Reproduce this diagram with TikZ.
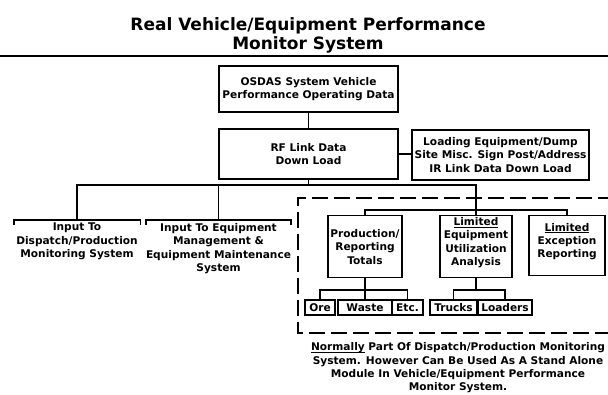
\documentclass[tikz,border=0pt]{standalone}
\usepackage{fontspec}
\setmainfont{DejaVu Sans}
\usetikzlibrary{positioning}

\newcommand{\bodyfont}{\bfseries\fontsize{10.6}{13.4}\selectfont}
\newcommand{\titlefont}{\bfseries\fontsize{17}{19}\selectfont}
\newcommand{\undl}[1]{\underline{\smash{#1}}}

\tikzset{
  box/.style={draw, line width=1.4pt, align=center, inner sep=1pt, font=\bodyfont},
  smallbox/.style={box, line width=1.2pt, minimum height=15pt},
  opentext/.style={align=center, inner xsep=0pt, inner ysep=3pt, font=\bodyfont, anchor=north},
  conn/.style={line width=1.4pt},
  frame/.style={line width=1.8pt, dash pattern=on 16pt off 6pt},
}

\begin{document}
\begin{tikzpicture}[x=1pt, y=-1pt]
  \useasboundingbox (0,0) rectangle (608,395);

  % heading
  \node[font=\titlefont, align=center] (title) at (308,35) {Real Vehicle/Equipment Performance\\Monitor System};
  \draw[line width=2.6pt] (0,56) -- (608,56);

  % data sources
  \node[box, minimum width=179pt, minimum height=46pt] (osdas) at (308.5,89) {OSDAS System Vehicle\\Performance Operating Data};
  \node[box, minimum width=179pt, minimum height=50pt] (rflink) at (308.5,154) {RF Link Data\\Down Load};
  \node[box, minimum width=177pt, minimum height=50pt] (irlink) at (500.5,155) {Loading Equipment/Dump\\Site Misc. Sign Post/Address\\IR Link Data Down Load};
  \draw[conn] (osdas) -- (rflink);
  \draw[conn] (rflink.east) -- (rflink.east -| irlink.west);

  % outputs with open tops
  \node[opentext, minimum width=126pt] (dispatch) at (77,220) {Input To\\Dispatch/Production\\Monitoring System};
  \node[opentext, minimum width=137pt] (maint) at (218.5,220) {Input To Equipment\\Management \&\\Equipment Maintenance\\System};
  \foreach \n in {dispatch, maint}
    \draw[conn] ([yshift=-5pt]\n.north west) -- (\n.north west) -- (\n.north east) -- ([yshift=-5pt]\n.north east);

  % stand alone module
  \draw[frame] (614,198) -- (298,198) -- (298,333) -- (614,333);
  \node[box, minimum width=74pt, minimum height=62pt, anchor=north] (prod) at (365,215) {Production/\\Reporting\\Totals};
  \node[box, minimum width=72pt, minimum height=62pt, anchor=north] (util) at (476,215) {\undl{Limited}\\Equipment\\Utilization\\Analysis};
  \node[box, minimum width=76pt, minimum height=60pt, anchor=north] (except) at (567,215) {\undl{Limited}\\Exception\\Reporting};

  \node[smallbox, minimum width=30pt] (ore) at (320,307.5) {Ore};
  \node[smallbox, minimum width=54pt] (waste) at (365,307.5) {Waste};
  \node[smallbox, minimum width=31pt] (etc) at (407.5,307.5) {Etc.};
  \node[smallbox, minimum width=47pt] (trucks) at (453.5,307.5) {Trucks};
  \node[smallbox, minimum width=54pt] (loaders) at (505,307.5) {Loaders};

  % tree
  \coordinate (hub) at (308.5,185);
  \coordinate (subhub) at (476,210);
  \coordinate (lowhub) at (365,290);
  \draw[conn] (rflink.south) -- (hub);
  \draw[conn] (dispatch.north) -- (dispatch.north |- hub) -- (util.north |- hub) -- (util.north);
  \draw[conn] (maint.north) -- (maint.north |- hub);
  \draw[conn] (prod.north) -- (prod.north |- subhub) -- (except.north |- subhub) -- (except.north);
  \draw[conn] (prod.south) -- (waste.north);
  \draw[conn] (ore.north) -- (ore.north |- lowhub) -- (etc.north |- lowhub) -- (etc.north);
  \draw[conn] (util.south) -- (util.south |- lowhub);
  \draw[conn] (trucks.north) -- (trucks.north |- lowhub) -- (loaders.north |- lowhub) -- (loaders.north);

  \node[font=\bodyfont, align=center] (note) at (458,368) {\undl{Normally} Part Of Dispatch/Production Monitoring\\System. However Can Be Used As A Stand Alone\\Module In Vehicle/Equipment Performance\\Monitor System.};
\end{tikzpicture}
\end{document}
